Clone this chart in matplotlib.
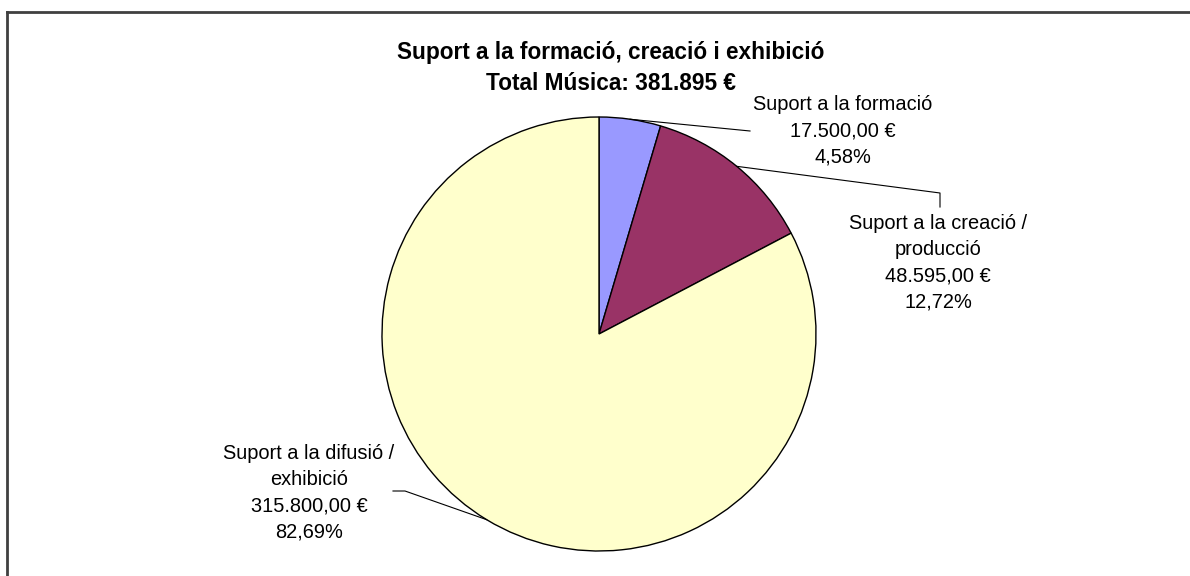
# Pie chart: Suport a la formació, creació i exhibició (Música)
import numpy as np
import matplotlib.pyplot as plt

plt.rcParams['font.family'] = ['Liberation Sans', 'DejaVu Sans']

categories = ["Suport a la formació", "Suport a la creació /\nproducció", "Suport a la difusió /\nexhibició"]
values = [17500.00, 48595.00, 315800.00]
percent_labels = ["4,58%", "12,72%", "82,69%"]
amount_labels = ["17.500,00 €", "48.595,00 €", "315.800,00 €"]
colors = ["#9999FF", "#993366", "#FFFFCC"]
title = "Suport a la formació, creació i exhibició\nTotal Música: 381.895 €"

W, H = 1190, 576
fig = plt.figure(figsize=(W / 100, H / 100), dpi=100)

def px(x, y):   # pixel position (from top-left) -> figure fraction
    return x / W, 1 - y / H

# pie axes, centre (599, 334), radius 217 px
cx, cy, r = 599, 334, 217
ax = fig.add_axes([(cx - r) / W, (H - cy - r) / H, 2 * r / W, 2 * r / H])
wedges, _ = ax.pie(values, colors=colors, startangle=90, counterclock=False, radius=1,
                   wedgeprops=dict(edgecolor="black", linewidth=1))
ax.set_xlim(-1, 1)
ax.set_ylim(-1, 1)
ax.axis("off")

# frame lines (only top and left visible)
fig.add_artist(plt.Line2D([px(7, 0)[0], px(7, 0)[0]], [px(0, 12)[1], 0], color="#404040", lw=2))
fig.add_artist(plt.Line2D([px(7, 0)[0], 1], [px(0, 12)[1], px(0, 12)[1]], color="#404040", lw=2))

fig.text(*px(611, 68), title, ha="center", va="center", fontsize=16.3, fontweight="bold",
         linespacing=1.42)

# labels and leader lines
label_pos = [(843, 131), (938, 263), (309, 493)]
leader_ends = [[(750, 131)], [(940, 193), (940, 207)], [(405, 491), (393, 491)]]
for w, cat, amt, pct, lp, ends in zip(wedges, categories, amount_labels, percent_labels, label_pos, leader_ends):
    ang = np.deg2rad((w.theta1 + w.theta2) / 2)
    sx, sy = cx + r * np.cos(ang), cy - r * np.sin(ang)
    pts = [(sx, sy)] + ends
    xs = [px(x, y)[0] for x, y in pts]
    ys = [px(x, y)[1] for x, y in pts]
    fig.add_artist(plt.Line2D(xs, ys, color="black", lw=0.8))
    fig.text(*px(*lp), cat + "\n" + amt + "\n" + pct, ha="center", va="center",
             fontsize=14.4, linespacing=1.48)

plt.savefig("out.png", dpi=100)
